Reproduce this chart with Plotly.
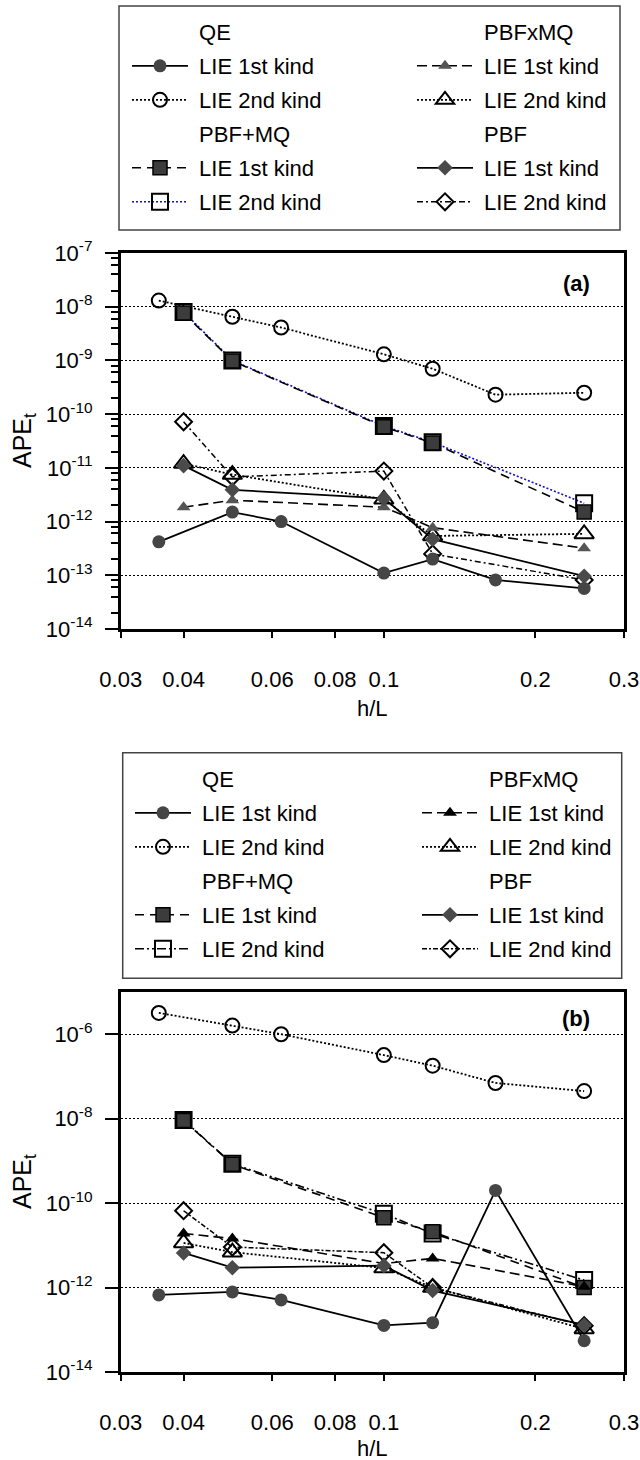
import plotly.graph_objects as go

W, H = 640, 1460
FONT = "Liberation Sans, Arial, sans-serif"

# ---------------- data ----------------
HL_QE = [1/28, 1/20, 1/16, 1/10, 1/8, 1/6, 1/4]
HL_PBF = [1/25, 1/20, 1/10, 1/8, 1/4]

# panel (a)
QE1_A = [4.2e-13, 1.5e-12, 1.0e-12, 1.1e-13, 2.0e-13, 8.2e-14, 5.7e-14]
QE2_A = [1.3e-8, 6.5e-9, 4.1e-9, 1.3e-9, 7.0e-10, 2.3e-10, 2.5e-10]
PM1_A = [7.6e-9, 9.8e-10, 5.8e-11, 2.9e-11, 1.5e-12]
PM2_A = [8.0e-9, 1.0e-9, 6.0e-11, 3.0e-11, 2.2e-12]
PX1_A = [1.85e-12, 2.5e-12, 1.85e-12, 7.7e-13, 3.2e-13]
PX2_A = [1.2e-11, 7.5e-12, 2.6e-12, 5.4e-13, 5.9e-13]
PB1_A = [1.1e-11, 3.9e-12, 2.7e-12, 4.7e-13, 9.6e-14]
PB2_A = [7.2e-11, 6.8e-12, 8.7e-12, 2.5e-13, 8.2e-14]

# panel (b)
QE1_B = [6.7e-13, 7.9e-13, 5.1e-13, 1.27e-13, 1.47e-13, 2.0e-10, 5.5e-14]
QE2_B = [3.2e-6, 1.6e-6, 1.0e-6, 3.2e-7, 1.8e-7, 7.0e-8, 4.5e-8]
PM1_B = [9.1e-9, 8.3e-10, 4.5e-11, 2.1e-11, 1.0e-12]
PM2_B = [9.3e-9, 8.5e-10, 5.6e-11, 1.9e-11, 1.5e-12]
PX1_B = [1.9e-11, 1.45e-11, 3.7e-12, 4.9e-12, 1.05e-12]
PX2_B = [1.14e-11, 6.9e-12, 2.9e-12, 1.0e-12, 1.05e-13]
PB1_B = [6.6e-12, 2.95e-12, 3.3e-12, 8.5e-13, 1.3e-13]
PB2_B = [6.6e-11, 9.1e-12, 6.7e-12, 1.0e-12, 1.25e-13]

X_TICKVALS = [0.03, 0.04, 0.06, 0.08, 0.1, 0.2, 0.3]
X_TICKTEXT = ["0.03", "0.04", "0.06", "0.08", "0.1", "0.2", "0.3"]
Y_EXP_A = [-14, -13, -12, -11, -10, -9, -8, -7]
Y_EXP_B = [-14, -12, -10, -8, -6]
MINOR_MULT = [2, 4, 6, 8]

KINDS = ["LIE 1st kind", "LIE 2nd kind"]


def px(x):
    return x / W


def py(y):
    return 1 - y / H


NB = "\u00a0"

# ---------------- styles ----------------
GRAY = "#454545"


def styles(panel):
    tri_fill = "#555555" if panel == "a" else "black"
    pm2_line = dict(color="#1010c8", width=1.6, dash="2px,2px") if panel == "a" else \
        dict(color="black", width=1.6, dash="9px,3px,2px,3px,2px,3px")
    pb2_dash = "6px,3px,2px,3px" if panel == "a" else "5px,2px,2px,2px"
    return {
        "qe1": dict(line=dict(color="black", width=1.8),
                    marker=dict(symbol="circle", size=13, color=GRAY)),
        "qe2": dict(line=dict(color="black", width=1.8, dash="2px,2px"),
                    marker=dict(symbol="circle-open", size=14, color="black", line=dict(width=2, color="black"))),
        "pm1": dict(line=dict(color="black", width=1.6, dash="9px,6px"),
                    marker=dict(symbol="square", size=14, color="#3c3c3c", line=dict(width=1.5, color="black"))),
        "pm2": dict(line=pm2_line,
                    marker=dict(symbol="square-open", size=16, color="black", line=dict(width=2, color="black"))),
        "px1": dict(line=dict(color="black", width=1.6, dash="10px,5px"),
                    marker=dict(symbol="triangle-up", size=12, color=tri_fill)),
        "px2": dict(line=dict(color="black", width=1.8, dash="2px,2px"),
                    marker=dict(symbol="triangle-up-open", size=17, color="black", line=dict(width=2, color="black"))),
        "pb1": dict(line=dict(color="black", width=1.8),
                    marker=dict(symbol="diamond", size=12, color="#4a4a4a")),
        "pb2": dict(line=dict(color="black", width=1.5, dash=pb2_dash),
                    marker=dict(symbol="diamond-open", size=13, color="black", line=dict(width=2, color="black"))),
    }


fig = go.Figure()

PANELS = [
    dict(id="a", xa="x", ya="y", legL="legend", legR="legend2",
         data={"qe1": (HL_QE, QE1_A), "qe2": (HL_QE, QE2_A), "pm1": (HL_PBF, PM1_A), "pm2": (HL_PBF, PM2_A),
               "px1": (HL_PBF, PX1_A), "px2": (HL_PBF, PX2_A), "pb1": (HL_PBF, PB1_A), "pb2": (HL_PBF, PB2_A)}),
    dict(id="b", xa="x2", ya="y2", legL="legend3", legR="legend4",
         data={"qe1": (HL_QE, QE1_B), "qe2": (HL_QE, QE2_B), "pm1": (HL_PBF, PM1_B), "pm2": (HL_PBF, PM2_B),
               "px1": (HL_PBF, PX1_B), "px2": (HL_PBF, PX2_B), "pb1": (HL_PBF, PB1_B), "pb2": (HL_PBF, PB2_B)}),
]

# legend layout: key -> (column, rank)
LEG_POS = {"qe1": ("L", 2), "qe2": ("L", 3), "pm1": ("L", 5), "pm2": ("L", 6),
           "px1": ("R", 2), "px2": ("R", 3), "pb1": ("R", 5), "pb2": ("R", 6)}
TITLE_POS = {"QE": ("L", 1), "PBF+MQ": ("L", 4), "PBFxMQ": ("R", 1), "PBF": ("R", 4)}
KIND_OF = {"qe1": 0, "qe2": 1, "pm1": 0, "pm2": 1, "px1": 0, "px2": 1, "pb1": 0, "pb2": 1}
DRAW_ORDER = ["qe2", "pm2", "pm1", "pb2", "px2", "px1", "pb1", "qe1"]

for p in PANELS:
    st = styles(p["id"])
    for key in DRAW_ORDER:
        xs, ys = p["data"][key]
        col, rank = LEG_POS[key]
        fig.add_trace(go.Scatter(
            x=xs, y=ys, mode="lines+markers", name=NB + KINDS[KIND_OF[key]],
            line=st[key]["line"], marker=st[key]["marker"],
            xaxis=p["xa"], yaxis=p["ya"],
            legend=p["legL"] if col == "L" else p["legR"],
            legendgroup=p["id"] + key, legendrank=rank, showlegend=True,
        ))
    for title, (col, rank) in TITLE_POS.items():
        fig.add_trace(go.Scatter(
            x=[None], y=[None], mode="lines", name=NB + title,
            line=dict(width=0, color="rgba(0,0,0,0)"),
            xaxis=p["xa"], yaxis=p["ya"],
            legend=p["legL"] if col == "L" else p["legR"],
            legendgroup=p["id"] + title, legendrank=rank, showlegend=True,
        ))

# ---------------- axes ----------------
X0, X1 = 120.7, 624
A_TOP, A_BOT = 253, 629
B_TOP, B_BOT = 992, 1372

xaxis_common = dict(
    type="log", range=[-1.5228787, -0.5228787], domain=[px(X0), px(X1)],
    tickmode="array", tickvals=X_TICKVALS, ticktext=X_TICKTEXT,
    ticks="outside", ticklen=6, tickwidth=1.5, tickcolor="black",
    showline=True, linewidth=2.5, linecolor="black", mirror=True,
    showgrid=False, zeroline=False, ticklabelstandoff=23,
    tickfont=dict(family=FONT, size=22, color="black"),
)
fig.update_layout(
    xaxis=dict(xaxis_common, anchor="y"),
    xaxis2=dict(xaxis_common, anchor="y2"),
)

yaxis_common = dict(
    type="log", tickmode="array",
    ticks="outside", ticklen=13, tickwidth=1.5, tickcolor="black",
    showline=True, linewidth=2.5, linecolor="black", mirror=True,
    showgrid=True, gridcolor="black", gridwidth=1.3, griddash="2px,2px",
    zeroline=False, ticklabelstandoff=8,
    tickfont=dict(family=FONT, size=22, color="black"),
)
fig.update_layout(
    yaxis=dict(yaxis_common, anchor="x", range=[-14, -7], domain=[py(A_BOT), py(A_TOP)],
               tickvals=[10.0 ** e for e in Y_EXP_A],
               ticktext=["10<sup>%d</sup>" % e for e in Y_EXP_A],
               minor=dict(tickmode="array",
                          tickvals=[m * 10.0 ** e for e in Y_EXP_A[:-1] for m in MINOR_MULT],
                          ticks="outside", ticklen=7, tickwidth=1.5, tickcolor="black", showgrid=False)),
    yaxis2=dict(yaxis_common, anchor="x2", range=[-14, -5], domain=[py(B_BOT), py(B_TOP)],
                tickvals=[10.0 ** e for e in Y_EXP_B],
                ticktext=["10<sup>%d</sup>" % e for e in Y_EXP_B]),
)

# ---------------- legends ----------------
leg_common = dict(bgcolor="rgba(0,0,0,0)", borderwidth=0, itemwidth=56, tracegroupgap=2.4,
                  font=dict(family=FONT, size=22, color="black"),
                  xanchor="left", yanchor="top", xref="paper", yref="paper",
                  orientation="v", itemclick=False, itemdoubleclick=False)
fig.update_layout(
    legend=dict(leg_common, x=px(127), y=py(11)),
    legend2=dict(leg_common, x=px(412), y=py(11)),
    legend3=dict(leg_common, x=px(130), y=py(758)),
    legend4=dict(leg_common, x=px(417), y=py(758)),
)

# legend frames
fig.add_shape(type="rect", xref="paper", yref="paper", x0=px(119), x1=px(620), y0=py(230), y1=py(6),
              line=dict(color="#444444", width=1.5), fillcolor="rgba(0,0,0,0)")
fig.add_shape(type="rect", xref="paper", yref="paper", x0=px(122.7), x1=px(621.7), y0=py(978.3), y1=py(752.7),
              line=dict(color="#444444", width=1.5), fillcolor="rgba(0,0,0,0)")

# ---------------- annotations ----------------
ann = []
for lbl, cy, tcy in [("(a)", 284, 708), ("(b)", 1018, 1448)]:
    ann.append(dict(text="<b>%s</b>" % lbl, x=px(576), y=py(cy), xref="paper", yref="paper",
                    xanchor="center", yanchor="middle", showarrow=False,
                    font=dict(family=FONT, size=22, color="black")))
    ann.append(dict(text="h/L", x=px((X0 + X1) / 2), y=py(tcy), xref="paper", yref="paper",
                    xanchor="center", yanchor="middle", showarrow=False,
                    font=dict(family=FONT, size=22, color="black")))
for top, bot in [(A_TOP, A_BOT), (B_TOP, B_BOT)]:
    ann.append(dict(text="APE<sub>t</sub>", x=px(24), y=py((top + bot) / 2), xref="paper", yref="paper",
                    xanchor="center", yanchor="middle", showarrow=False, textangle=-90,
                    font=dict(family=FONT, size=25, color="black")))
fig.update_layout(annotations=ann)

fig.update_layout(
    width=W, height=H, margin=dict(l=0, r=0, t=0, b=0, autoexpand=False),
    paper_bgcolor="white", plot_bgcolor="white",
    font=dict(family=FONT, color="black"),
    showlegend=True,
)

fig.write_html("out.html")
